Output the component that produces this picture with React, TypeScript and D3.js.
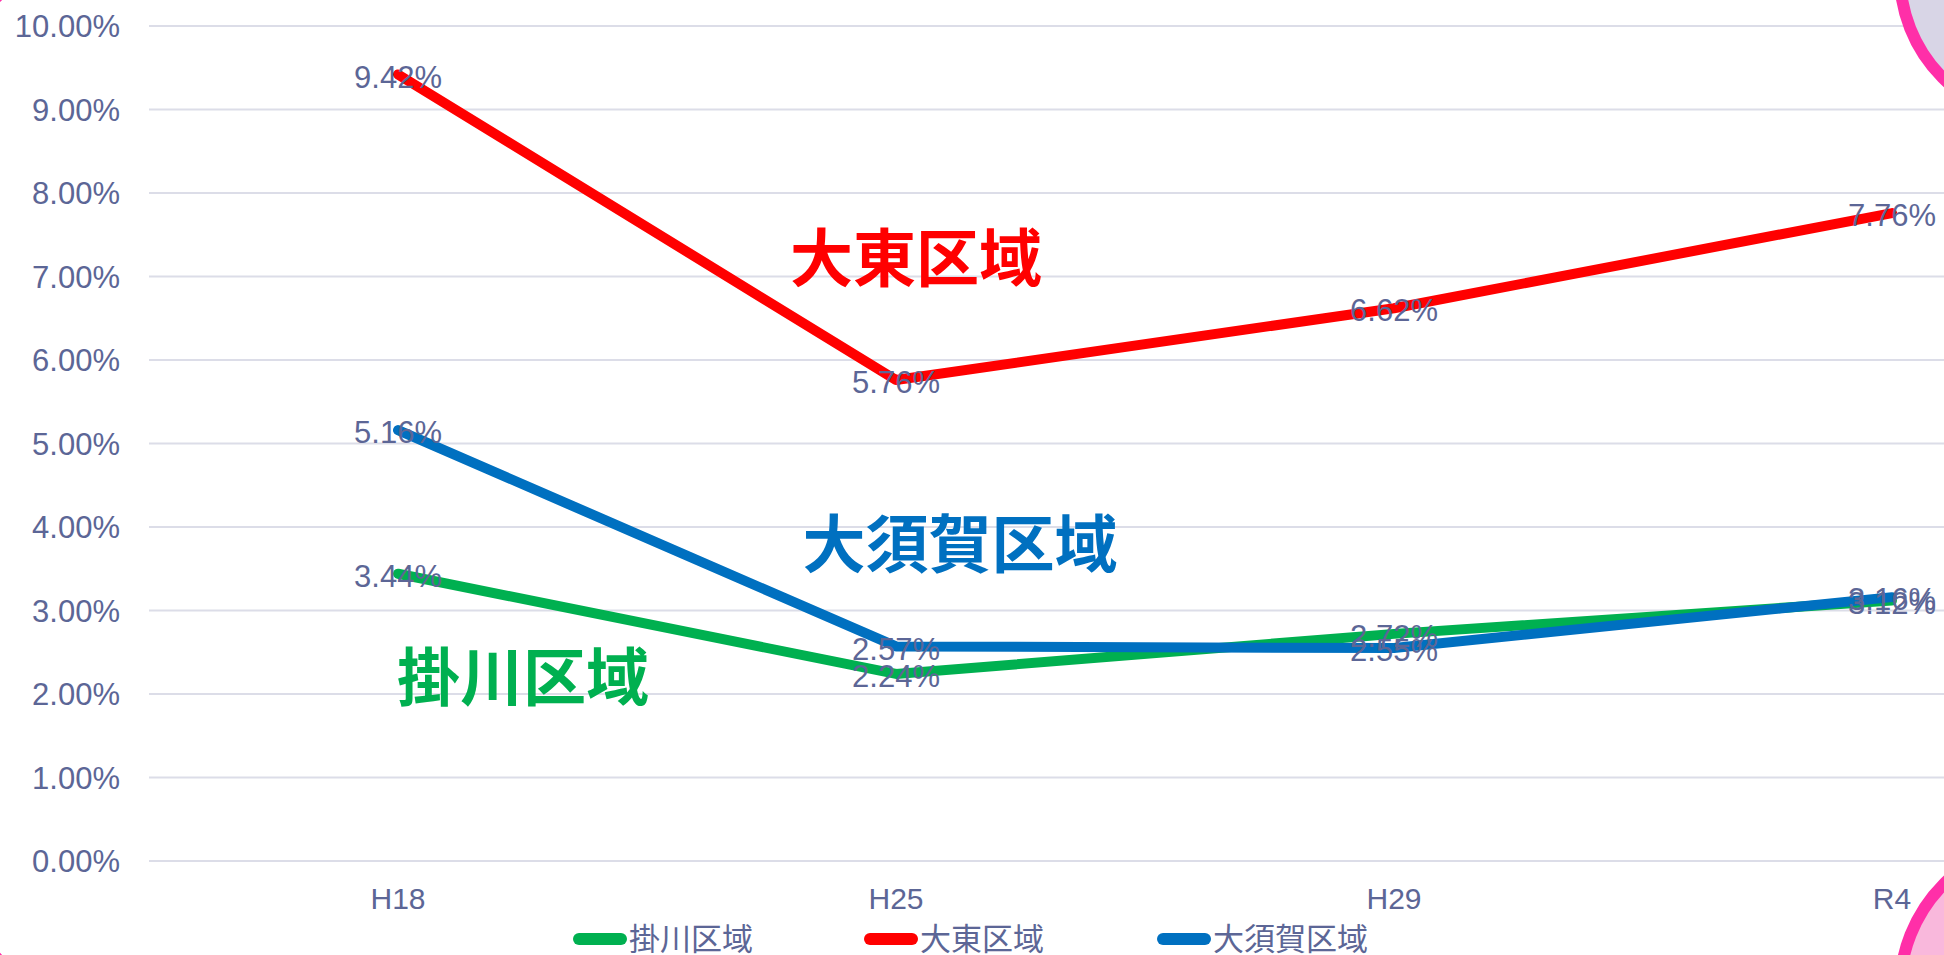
import React from "react";
import * as d3 from "d3";

const categories = ["H18", "H25", "H29", "R4"];
const kakegawa = [3.44, 2.24, 2.72, 3.12];
const daito = [9.42, 5.76, 6.62, 7.76];
const osuka = [5.16, 2.57, 2.55, 3.16];
const yTicks = [0, 1, 2, 3, 4, 5, 6, 7, 8, 9, 10];
const seriesNames = ["掛川区域", "大東区域", "大須賀区域"];
const seriesColors = ["#00b050", "#ff0000", "#0070c0"];

const W = 1944;
const H = 955;
const TEXT = "#5c6696";
const FONT = "'Liberation Sans', Arial, sans-serif";
const CJK = "'Noto Sans CJK JP', 'Noto Sans', sans-serif";

export default function App() {
  const x = d3.scalePoint<string>().domain(categories).range([149, 2141]).padding(0.5);
  const y = d3.scaleLinear().domain([0, 10]).range([861, 26]);
  const line = d3
    .line<number>()
    .x((_, i) => x(categories[i]) as number)
    .y((d) => y(d));
  const allSeries = [kakegawa, daito, osuka];
  const fmt = (v: number) => v.toFixed(2) + "%";

  const annotations = [
    { text: seriesNames[1], color: seriesColors[1], cx: 916, cy: 258 },
    { text: seriesNames[2], color: seriesColors[2], cx: 960, cy: 544 },
    { text: seriesNames[0], color: seriesColors[0], cx: 523, cy: 677 },
  ];
  const legendX = [573, 864, 1157];

  return (
    <svg
      width={W}
      height={H}
      style={{ position: "fixed", left: 0, top: 0, background: "#fff" }}
    >
      <defs>
        <clipPath id="clip">
          <rect x={0} y={0} width={W} height={H} />
        </clipPath>
      </defs>
      <g clipPath="url(#clip)">
        {yTicks.map((t) => (
          <g key={t}>
            <line x1={149} x2={W} y1={y(t)} y2={y(t)} stroke="#dcdde8" strokeWidth={2} />
            <text
              x={120}
              y={y(t)}
              dy="0.36em"
              textAnchor="end"
              fontFamily={FONT}
              fontSize={31}
              fill={TEXT}
            >
              {t.toFixed(2) + "%"}
            </text>
          </g>
        ))}
        {categories.map((c) => (
          <text
            key={c}
            x={x(c)}
            y={898}
            dy="0.36em"
            textAnchor="middle"
            fontFamily={FONT}
            fontSize={30}
            fill={TEXT}
          >
            {c}
          </text>
        ))}
        {allSeries.map((s, i) => (
          <path
            key={i}
            d={line(s) || ""}
            fill="none"
            stroke={seriesColors[i]}
            strokeWidth={10}
            strokeLinecap="round"
            strokeLinejoin="round"
          />
        ))}
        {allSeries.map((s, i) =>
          s.map((v, j) => (
            <text
              key={i + "-" + j}
              x={x(categories[j])}
              y={y(v) + 2}
              dy="0.36em"
              textAnchor="middle"
              fontFamily={FONT}
              fontSize={31}
              fill={TEXT}
            >
              {fmt(v)}
            </text>
          ))
        )}
        {annotations.map((a) => (
          <text
            key={a.text}
            x={a.cx}
            y={a.cy}
            dy="0.36em"
            textAnchor="middle"
            fontFamily={CJK}
            fontWeight={700}
            fontSize={63}
            fill={a.color}
          >
            {a.text}
          </text>
        ))}
        {seriesNames.map((n, i) => (
          <g key={n}>
            <line
              x1={legendX[i] + 6}
              x2={legendX[i] + 48}
              y1={939}
              y2={939}
              stroke={seriesColors[i]}
              strokeWidth={12}
              strokeLinecap="round"
            />
            <text
              x={legendX[i] + 56}
              y={939}
              dy="0.36em"
              fontFamily={CJK}
              fontSize={31}
              fill={TEXT}
            >
              {n}
            </text>
          </g>
        ))}
        <circle cx={2045} cy={-25} r={145} fill="#d8d5e6" stroke="#ff2fa8" strokeWidth={12} />
        <circle cx={2050} cy={990} r={150} fill="#f9b8dc" stroke="#ff2fa8" strokeWidth={12} />
        <circle cx={-30} cy={-30} r={40} fill="none" stroke="#ff2fa8" strokeWidth={8} />
        <circle cx={-30} cy={985} r={40} fill="none" stroke="#ff2fa8" strokeWidth={8} />
      </g>
    </svg>
  );
}
